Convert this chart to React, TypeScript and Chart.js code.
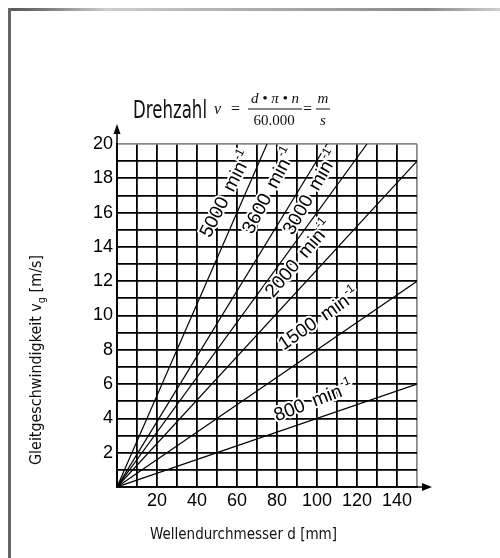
import React, { useEffect, useRef } from 'react';
import { Chart, registerables } from 'chart.js';
Chart.register(...registerables);

// ---- data ----
const speedLabels = ['5000', '3600', '3000', '2000', '1500', '800'];
const lineEndDiameter = [75, 105, 125, 150, 150, 150];
const lineEndVelocity = [20, 20, 20, 19, 12, 6];
const xTickValues = [20, 40, 60, 80, 100, 120, 140];
const yTickValues = [2, 4, 6, 8, 10, 12, 14, 16, 18, 20];
const xRange = [0, 150];
const yRange = [0, 20];

// ---- label layout (data coords of label centres, angle in degrees) ----
const labelLayout = [
  { d: 54, v: 17.1, angle: -63 },
  { d: 75.5, v: 17.3, angle: -62 },
  { d: 96.5, v: 17.2, angle: -60 },
  { d: 90.5, v: 13.35, angle: -50 },
  { d: 100.5, v: 9.85, angle: -35 },
  { d: 98, v: 5.07, angle: -21 },
];

const SANS = '"Liberation Sans", Arial, sans-serif';
const NARROW = '"Liberation Sans Narrow", "DejaVu Sans Condensed", sans-serif';
const SERIF = '"Liberation Serif", "Times New Roman", serif';

function fitText(ctx: any, text: string, x: number, y: number, width: number) {
  const w = ctx.measureText(text).width;
  const k = Math.min(1, width / w);
  ctx.save();
  ctx.translate(x, y);
  ctx.scale(k, 1);
  ctx.fillText(text, 0, 0);
  ctx.restore();
}

const decorations = {
  id: 'decorations',
  afterDatasetsDraw(chart: any) {
    const { ctx } = chart;
    const xs = chart.scales.x;
    const ys = chart.scales.y;
    labelLayout.forEach((p, i) => {
      const px = xs.getPixelForValue(p.d);
      const py = ys.getPixelForValue(p.v);
      ctx.save();
      ctx.translate(px, py);
      ctx.rotate((p.angle * Math.PI) / 180);
      const mainFont = '19px ' + SANS;
      const supFont = '12px ' + SANS;
      ctx.font = mainFont;
      const numW = ctx.measureText(speedLabels[i]).width;
      const minW = ctx.measureText('min').width;
      const gap = 9;
      ctx.font = supFont;
      const supW = ctx.measureText('-1').width;
      const total = numW + gap + minW + 1 + supW;
      const x0 = -total / 2;
      const base = 7;
      const parts = [
        { t: speedLabels[i], f: mainFont, x: x0, y: base },
        { t: 'min', f: mainFont, x: x0 + numW + gap, y: base },
        { t: '-1', f: supFont, x: x0 + numW + gap + minW + 1, y: base - 9 },
      ];
      ctx.textBaseline = 'alphabetic';
      ctx.textAlign = 'left';
      ctx.lineJoin = 'round';
      ctx.strokeStyle = '#fff';
      ctx.lineWidth = 4;
      parts.forEach((q) => {
        ctx.font = q.f;
        ctx.strokeText(q.t, q.x, q.y);
      });
      ctx.fillStyle = '#000';
      parts.forEach((q) => {
        ctx.font = q.f;
        ctx.fillText(q.t, q.x, q.y);
      });
      ctx.restore();
    });
  },
  afterDraw(chart: any) {
    const { ctx, chartArea } = chart;
    ctx.save();
    // frame
    const g = ctx.createLinearGradient(8, 0, 500, 0);
    g.addColorStop(0, '#555');
    g.addColorStop(0.07, '#777');
    g.addColorStop(0.2, '#cfcfcf');
    g.addColorStop(0.4, '#b5b5b5');
    g.addColorStop(0.6, '#a5a5a5');
    g.addColorStop(0.85, '#888');
    g.addColorStop(1, '#d0d0d0');
    ctx.fillStyle = g;
    ctx.fillRect(8, 8, 492, 3);
    ctx.fillStyle = '#666';
    ctx.fillRect(8, 8, 3, 550);

    // axis arrows
    const left = chartArea.left;
    const bottom = chartArea.bottom;
    ctx.strokeStyle = '#000';
    ctx.fillStyle = '#000';
    ctx.lineWidth = 1.5;
    ctx.beginPath();
    ctx.moveTo(left, chartArea.top);
    ctx.lineTo(left, 132);
    ctx.stroke();
    ctx.beginPath();
    ctx.moveTo(left, 124);
    ctx.lineTo(left - 3.5, 134);
    ctx.lineTo(left + 3.5, 134);
    ctx.closePath();
    ctx.fill();
    ctx.beginPath();
    ctx.moveTo(chartArea.right, bottom);
    ctx.lineTo(424, bottom);
    ctx.stroke();
    ctx.beginPath();
    ctx.moveTo(432, bottom);
    ctx.lineTo(422, bottom - 4);
    ctx.lineTo(422, bottom + 4);
    ctx.closePath();
    ctx.fill();

    // title
    ctx.fillStyle = '#111';
    ctx.textBaseline = 'alphabetic';
    ctx.textAlign = 'left';
    ctx.font = '25px ' + NARROW;
    fitText(ctx, 'Drehzahl', 133, 118, 74);

    // formula
    const dy = 13;
    ctx.font = 'italic 16px ' + SERIF;
    ctx.fillText('v', 214, 101 + dy);
    ctx.font = '16px ' + SERIF;
    ctx.fillText('=', 231, 101 + dy);
    ctx.textAlign = 'center';
    ctx.font = 'italic 15px ' + SERIF;
    ctx.fillText('d \u2022 \u03C0 \u2022 n', 275, 90 + dy);
    ctx.font = '15px ' + SERIF;
    ctx.fillText('60.000', 274, 112 + dy);
    ctx.fillRect(248, 95.5 + dy, 54, 1);
    ctx.textAlign = 'left';
    ctx.font = '16px ' + SERIF;
    ctx.fillText('=', 303, 101 + dy);
    ctx.textAlign = 'center';
    ctx.font = 'italic 15px ' + SERIF;
    ctx.fillText('m', 323, 90 + dy);
    ctx.fillText('s', 323, 112 + dy);
    ctx.fillRect(316, 95.5 + dy, 14, 1);

    // x axis title
    ctx.textAlign = 'left';
    ctx.font = '16px ' + NARROW;
    fitText(ctx, 'Wellendurchmesser d [mm]', 150, 539, 187);

    // y axis title
    ctx.save();
    ctx.translate(41, 360);
    ctx.rotate(-Math.PI / 2);
    const a = 'Gleitgeschwindigkeit v';
    const b = 'g';
    const c = ' [m/s]';
    ctx.font = '16px ' + NARROW;
    const aw = ctx.measureText(a).width;
    const cw = ctx.measureText(c).width;
    ctx.font = '11px ' + NARROW;
    const bw = ctx.measureText(b).width;
    const tot = aw + bw + cw;
    const k = 210 / tot;
    ctx.scale(k, 1);
    let sx = -tot / 2;
    ctx.font = '16px ' + NARROW;
    ctx.fillText(a, sx, 0);
    sx += aw;
    ctx.font = '11px ' + NARROW;
    ctx.fillText(b, sx, 4);
    sx += bw;
    ctx.font = '16px ' + NARROW;
    ctx.fillText(c, sx, 0);
    ctx.restore();

    ctx.restore();
  },
};

export default function App() {
  const ref = useRef<HTMLCanvasElement>(null);
  useEffect(() => {
    if (!ref.current) return;
    const datasets = speedLabels.map((s, i) => ({
      label: s,
      data: [
        { x: 0, y: 0 },
        { x: lineEndDiameter[i], y: lineEndVelocity[i] },
      ],
      showLine: true,
      borderColor: '#000',
      borderWidth: 1.2,
      pointRadius: 0,
      fill: false,
    }));
    const chart = new Chart(ref.current, {
      type: 'scatter',
      data: { datasets },
      plugins: [decorations],
      options: {
        responsive: false,
        animation: false,
        layout: { padding: { left: 67, right: 83, top: 144, bottom: 41 } },
        plugins: { legend: { display: false }, tooltip: { enabled: false }, title: { display: false } },
        scales: {
          x: {
            type: 'linear',
            min: xRange[0],
            max: xRange[1],
            afterFit: (s: any) => { s.height = 30; },
            ticks: {
              stepSize: 10,
              autoSkip: false,
              maxRotation: 0,
              padding: 3,
              color: '#000',
              font: { size: 18, family: SANS },
              callback: (v: any) => (xTickValues.includes(Number(v)) ? String(v) : ''),
            },
            grid: {
              drawTicks: false,
              lineWidth: 1.8,
              color: (c: any) => (c.tick && c.tick.value === xRange[1] ? '#8a8a8a' : '#000'),
            },
            border: { display: true, color: '#000', width: 1.8 },
          },
          y: {
            type: 'linear',
            min: yRange[0],
            max: yRange[1],
            afterFit: (s: any) => { s.width = 50; },
            ticks: {
              stepSize: 1,
              autoSkip: false,
              padding: 4,
              color: '#000',
              font: { size: 18, family: SANS },
              callback: (v: any) => (yTickValues.includes(Number(v)) ? String(v) : ''),
            },
            grid: {
              drawTicks: false,
              lineWidth: 1.8,
              color: (c: any) => (c.tick && c.tick.value === yRange[1] ? '#8a8a8a' : '#000'),
            },
            border: { display: true, color: '#000', width: 1.8 },
          },
        },
      },
    });
    return () => chart.destroy();
  }, []);
  return (
    <div style={{ position: 'absolute', left: 0, top: 0, width: 500, height: 558, background: '#fff' }}>
      <canvas ref={ref} width={500} height={558} style={{ width: 500, height: 558, display: 'block' }} />
    </div>
  );
}
